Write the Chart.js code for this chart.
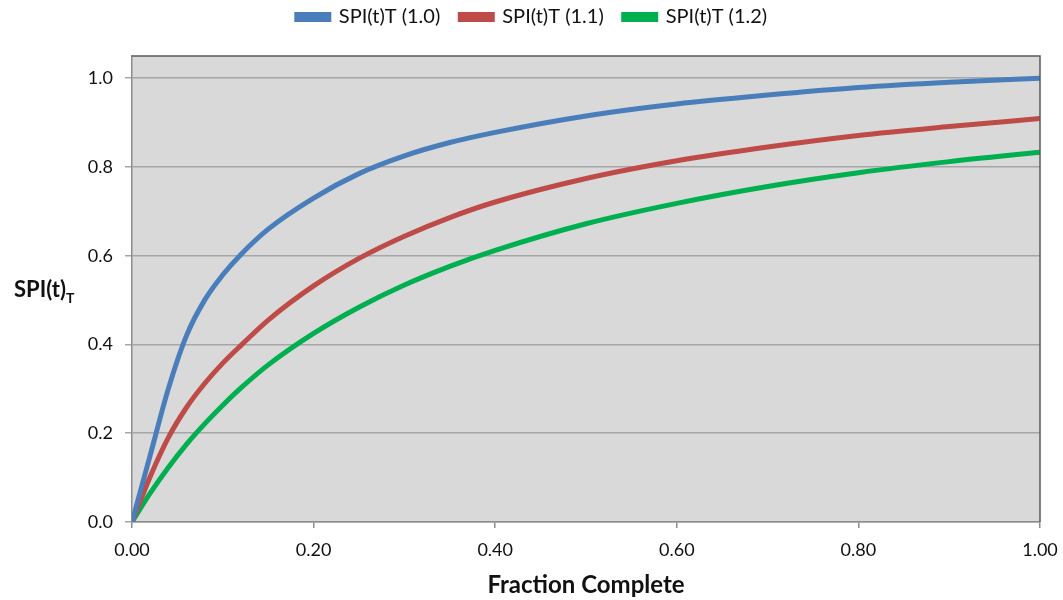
<!DOCTYPE html>
<html>
<head>
<meta charset="utf-8">
<script src="https://cdn.jsdelivr.net/npm/chart.js@4.4.0/dist/chart.umd.min.js"></script>
<style>
  html, body { margin: 0; padding: 0; background: #fff; }
  #wrap { position: relative; width: 1063px; height: 600px; }
  #yTitle {
    position: absolute; left: 14px; top: 275px;
    font-family: Lato, "Open Sans", sans-serif; font-weight: bold; font-size: 22px; color: #111;
  }
  #yTitle sub { font-size: 14px; vertical-align: -6px; }
</style>
</head>
<body>
<div id="wrap">
  <canvas id="spiChart" width="1063" height="600"></canvas>
  <div id="yTitle">SPI(t)<sub>T</sub></div>
</div>
<script>
// fraction complete (x values)
const fractionComplete = [0, 0.02, 0.04, 0.06, 0.08, 0.10, 0.12, 0.15, 0.20, 0.25, 0.30, 0.35, 0.40, 0.50, 0.60, 0.70, 0.80, 0.90, 1.00];

// SPI(t)T for each ratio
const spi10 = [0, 0.150, 0.300, 0.420, 0.500, 0.557, 0.603, 0.660, 0.730, 0.785, 0.825, 0.855, 0.878, 0.915, 0.942, 0.962, 0.979, 0.991, 1.000];
const spi11 = [0, 0.102, 0.190, 0.258, 0.312, 0.358, 0.398, 0.455, 0.532, 0.594, 0.644, 0.686, 0.721, 0.774, 0.814, 0.845, 0.871, 0.891, 0.909];
const spi12 = [0, 0.065, 0.123, 0.175, 0.221, 0.263, 0.302, 0.354, 0.425, 0.484, 0.534, 0.576, 0.612, 0.672, 0.718, 0.756, 0.787, 0.812, 0.833];

const seriesLabels = ['SPI(t)T (1.0)', 'SPI(t)T (1.1)', 'SPI(t)T (1.2)'];
const seriesColors = ['#4a7ebb', '#be4b48', '#00b050'];

const xTicks = [0, 0.2, 0.4, 0.6, 0.8, 1.0];
const yTicks = [0, 0.2, 0.4, 0.6, 0.8, 1.0];

const FONT = 'Lato, "Open Sans", sans-serif';

function toPoints(ys) {
    return ys.map((y, i) => ({ x: fractionComplete[i], y: y }));
}

// grey plot background, dark top/right frame, fixed legend height and offset
const plotFrame = {
    id: 'plotFrame',
    afterInit(chart) {
        const lg = chart.legend;
        const fit = lg.fit.bind(lg);
        const draw = lg.draw.bind(lg);
        lg.fit = function () {
            fit();
            this.height = 71;
        };
        lg.draw = function () {
            chart.ctx.save();
            chart.ctx.translate(12, 2);
            draw();
            chart.ctx.restore();
        };
    },
    beforeDraw(chart) {
        const a = chart.chartArea;
        const c = chart.ctx;
        c.save();
        c.fillStyle = '#d9d9d9';
        c.fillRect(a.left, a.top, a.right - a.left, a.bottom - a.top);
        c.restore();
    },
    afterDraw(chart) {
        const a = chart.chartArea;
        const c = chart.ctx;
        c.save();
        c.strokeStyle = '#595959';
        c.lineWidth = 1.5;
        c.beginPath();
        c.moveTo(a.left, a.top);
        c.lineTo(a.right, a.top);
        c.lineTo(a.right, a.bottom);
        c.stroke();
        c.restore();
    }
};

const allSeries = [spi10, spi11, spi12];

const ctx = document.getElementById('spiChart').getContext('2d');
const spiChart = new Chart(ctx, {
    type: 'scatter',
    data: {
        datasets: allSeries.map((ys, i) => ({
            label: seriesLabels[i],
            data: toPoints(ys),
            borderColor: seriesColors[i],
            backgroundColor: seriesColors[i],
            borderWidth: 5,
            showLine: true,
            pointRadius: 0,
            cubicInterpolationMode: 'monotone'
        }))
    },
    plugins: [plotFrame],
    options: {
        responsive: false,
        animation: false,
        layout: { padding: { left: 0, right: 23, top: -15, bottom: 0 } },
        plugins: {
            tooltip: { enabled: false },
            legend: {
                position: 'top',
                labels: {
                    boxWidth: 32,
                    boxHeight: 5,
                    padding: 20,
                    color: '#111',
                    font: { family: FONT, size: 20 }
                }
            }
        },
        scales: {
            x: {
                type: 'linear',
                min: 0,
                max: 1,
                afterBuildTicks: axis => { axis.ticks = xTicks.map(v => ({ value: v })); },
                afterFit: axis => {
                    axis.height = 78;
                    axis.paddingLeft = 0;
                    axis.paddingRight = 0;
                },
                ticks: {
                    color: '#111',
                    padding: 11,
                    maxRotation: 0,
                    font: { family: FONT, size: 18 },
                    callback: v => Number(v).toFixed(2)
                },
                grid: { drawOnChartArea: false, drawTicks: true, tickLength: 6, color: '#8c8c8c', lineWidth: 1.5 },
                border: { color: '#8c8c8c', width: 1.5 },
                title: {
                    display: true,
                    text: 'Fraction Complete',
                    color: '#111',
                    padding: { top: 0, bottom: 0 },
                    font: { family: FONT, size: 24, weight: 'bold' }
                }
            },
            y: {
                min: 0,
                max: 1.05,
                afterBuildTicks: axis => { axis.ticks = yTicks.map(v => ({ value: v })); },
                afterFit: axis => { axis.width = 132; },
                ticks: {
                    color: '#111',
                    padding: 12,
                    font: { family: FONT, size: 18 },
                    callback: v => Number(v).toFixed(1)
                },
                grid: { color: '#a6a6a6', lineWidth: 1.5, tickLength: 7 },
                border: { color: '#8c8c8c', width: 1.5 }
            }
        }
    }
});
</script>
</body>
</html>
